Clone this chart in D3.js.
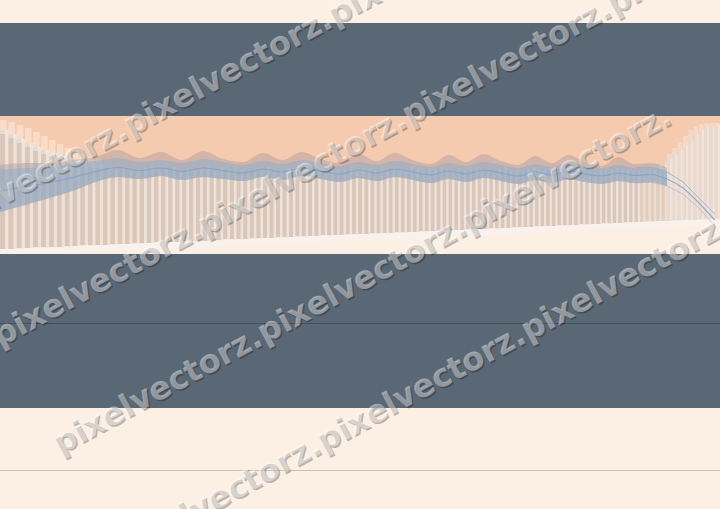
<!DOCTYPE html>
<html><head><meta charset="utf-8">
<script src="https://cdn.jsdelivr.net/npm/d3@7"></script>
<style>html,body{margin:0;padding:0;background:#fcefe3;} svg{display:block;}</style>
</head><body>
<svg id="c" width="720" height="509"></svg>
<script>
// ---- data ----
const barTop = [
 124,120,115,111,107,104,101,98,96,94,92,91,90,
 86,84,87,85,83,86,88,84,85,87,
 83,86,84,85,88,83,86,84,87,85,
 83,86,84,88,85,83,86,84,87,85,
 84,86,83,87,85,84,88,83,86,85,
 84,87,83,86,85,84,88,85,83,86,
 84,87,85,83,86,84,85,87,83,86,
 84,85,88,84,86,83,85,87,84,86,
 85,83,87,84,86,85,84,86,83,87,
 85,84,86,85,84,83,84,
 84,85,86,89,92,96,100,104,109,114,120,125,127,128,129
];
const barBase = [
 5,5,5.5,6,6.5, 6.5,7,7,7.5,8, 8.5,8.5,9,9,9.5, 10,10,10.5,10.5,11,
 11.5,11.5,12,12,12.5,12.5,13,13,13.5,14,
 14.5,14.5,15,15,15.5,15.5,16,16,16.5,16.5,
 17,17.5,17.5,18,18,18.5,18.5,19,19,19.5,
 19.5,20,20,20.5,20.5,21,21,21.5,21.5,22,
 22,22.5,22.5,23,23,23.5,23.5,24,24,24.5,
 24.5,25,25,25.5,25.5,26,26,26.5,26.5,27,
 27,27.5,27.5,28,28,28.5,28.5,29,29,29.5,
 29.5,30,30,30.5,30.5,31,31,31.5,31.5,32,
 32,32.5,32.5,33,33,33,33.5,33.5,34,34,
 34,34.5,34.5,35,35
];
const ghostLeftIdx = [0,1,2,3,4,5,6,7,8,9,10,11,12];
const ghostLeft = [134,132,129,126,122,118,114,110,106,103,100,97,95];
const ghostRightIdx = [105,106,107,108,109,110,111,112,113,114];
const ghostRight = [100,106,112,118,124,128,130,131,131,131];
const bandIdx = [0,3,6,9,12,15,18,21,24,27,30,33,36,39,42,45,48,51,54,57,60,63,66,69,72,75,78,81,84,87,90,93,96,99,102,105,108,111,114];
const bandUpper = [84,86,87,90,93,96,92,94,91,95,92,89,93,90,94,91,88,92,89,93,90,87,91,88,92,89,86,90,87,91,88,86,89,86,87,82,72,56,40];
const bandLower = [42,49,56,63,72,77,75,78,74,77,75,73,77,74,78,75,72,76,73,77,74,71,75,72,76,73,70,74,71,75,72,70,73,71,72,68,60,46,28];
const ridgeTop  = [89,91,91,94,97,104,96,102,94,103,95,92,101,94,102,95,91,100,93,101,94,90,99,92,100,93,89,98,91,99,92,88,97,90,91,86,76,59,42];
const watermarkWord = "pixelvectorz.";

// ---- layout ----
const W = 720, H = 509;
const svg = d3.select("#c");
const C = {cream:"#fcefe3", slate:"#5a6875", peach:"#f5cbb0", bar:"#d9c7bc", gap:"#efe2d8"};
const x = d3.scalePow().exponent(0.75).domain([20, 20 + barTop.length]).range([0, W]);
const xi = i => x(i + 20);
const y = d3.scaleLinear().domain([0, 140]).range([254, 114]);

svg.append("rect").attr("width", W).attr("height", H).attr("fill", C.cream);
svg.append("rect").attr("x",0).attr("y",23).attr("width",W).attr("height",93).attr("fill",C.slate);
svg.append("rect").attr("x",0).attr("y",116).attr("width",W).attr("height",138).attr("fill",C.peach);

const bars = barTop.map((t,i)=>({i, top:t, base:barBase[i]}));
svg.append("g").selectAll("rect").data(bars).join("rect")
  .attr("x", d=>xi(d.i)).attr("width", d=>xi(d.i+1)-xi(d.i)+0.3)
  .attr("y", d=>y(d.top)).attr("height", d=>y(d.base)-y(d.top))
  .attr("fill", C.gap).attr("opacity", d=> d.i>=100 ? 0.75 : 1);
svg.append("g").selectAll("rect").data(bars).join("rect")
  .attr("x", d=>xi(d.i)).attr("width", d=>(xi(d.i+1)-xi(d.i))*0.6)
  .attr("y", d=>y(d.top)).attr("height", d=>y(d.base)-y(d.top))
  .attr("fill", C.bar).attr("opacity", d=> d.i>=100 ? 0.7 : 1);
const groundData = bars.concat([{i:bars.length, base:barBase[barBase.length-1]}]);
svg.append("path").datum(groundData)
  .attr("d", d3.area().x(d=>xi(d.i)).y0(y(0)).y1(d=>y(d.base)).curve(d3.curveStepAfter))
  .attr("fill", C.cream);
svg.append("path").datum(groundData)
  .attr("d", d3.area().x(d=>xi(d.i)).y0(d=>y(d.base)+6).y1(d=>y(d.base)).curve(d3.curveStepAfter))
  .attr("fill", "#f8f1ec");

// ghost bars
svg.append("g").selectAll("rect").data(ghostLeftIdx.map((i,k)=>({i,v:ghostLeft[k]}))).join("rect")
  .attr("x", d=>xi(d.i)).attr("width", d=>(xi(d.i+1)-xi(d.i))*0.8)
  .attr("y", d=>y(d.v)).attr("height", d=>y(barTop[d.i])-y(d.v)+4)
  .attr("fill", "#ffffff").attr("opacity", 0.35);
svg.append("g").selectAll("rect").data(ghostRightIdx.map((i,k)=>({i,v:ghostRight[k]}))).join("rect")
  .attr("x", d=>xi(d.i)).attr("width", d=>(xi(d.i+1)-xi(d.i))*0.9)
  .attr("y", d=>y(d.v)).attr("height", d=>y(barBase[d.i])-y(d.v))
  .attr("fill", "#ffffff").attr("opacity", 0.25);

// band
const band = bandIdx.map((i,k)=>({i, up:bandUpper[k], lo:bandLower[k], rt:ridgeTop[k]}));
const bandArea = band.filter(d=>d.i<=105);
svg.append("path").datum(bandArea)
  .attr("d", d3.area().x(d=>xi(d.i)).y0(d=>y(d.lo)).y1(d=>y(d.rt)).curve(d3.curveMonotoneX))
  .attr("fill", "#a89ca0").attr("opacity", 0.45);
svg.append("path").datum(bandArea)
  .attr("d", d3.area().x(d=>xi(d.i)).y0(d=>y(d.lo)).y1(d=>y(d.up)).curve(d3.curveMonotoneX))
  .attr("fill", "#8aadd0").attr("opacity", 0.5);
svg.append("path").datum(band)
  .attr("d", d3.line().x(d=>xi(d.i)).y(d=>y((d.up+d.lo)/2)).curve(d3.curveMonotoneX))
  .attr("fill","none").attr("stroke","#7aa3cb").attr("stroke-width",1.2).attr("opacity",0.8);
svg.append("path").datum(band.filter(d=>d.i>=99))
  .attr("d", d3.line().x(d=>xi(d.i)).y(d=>y(d.up)).curve(d3.curveLinear))
  .attr("fill","none").attr("stroke","#8fb1d2").attr("stroke-width",1).attr("opacity",0.8);
svg.append("path").datum(band.filter(d=>d.i>=99))
  .attr("d", d3.line().x(d=>xi(d.i)).y(d=>y(d.lo)).curve(d3.curveLinear))
  .attr("fill","none").attr("stroke","#8fb1d2").attr("stroke-width",1).attr("opacity",0.6);

// lower slate band
svg.append("rect").attr("x",0).attr("y",254).attr("width",W).attr("height",154).attr("fill",C.slate);
svg.append("line").attr("x1",0).attr("x2",W).attr("y1",323.5).attr("y2",323.5).attr("stroke","#46525d").attr("stroke-width",1);
svg.append("line").attr("x1",0).attr("x2",W).attr("y1",470.5).attr("y2",470.5).attr("stroke","#cdbfb3").attr("stroke-width",1);

// watermark
const ang = 28.4, slope = Math.tan(ang*Math.PI/180);
const rows = [{b:207, s:-279, n:4},{b:347, s:0, n:4},{b:487, s:60, n:3},{b:627, s:119, n:4}];
const wm = svg.append("g")
  .attr("font-family","DejaVu Sans").attr("font-weight","bold").attr("font-size",32);
rows.forEach(r=>{
  const sx = r.s, sy = r.b - slope*sx;
  const str = watermarkWord.repeat(r.n);
  wm.append("text").attr("transform",`translate(${sx+1.5},${sy+1.5}) rotate(${-ang})`)
    .attr("fill","#000").attr("opacity",0.25).text(str);
  wm.append("text").attr("transform",`translate(${sx},${sy}) rotate(${-ang})`)
    .attr("fill","#fff").attr("opacity",0.42).text(str);
});
</script>
</body></html>
